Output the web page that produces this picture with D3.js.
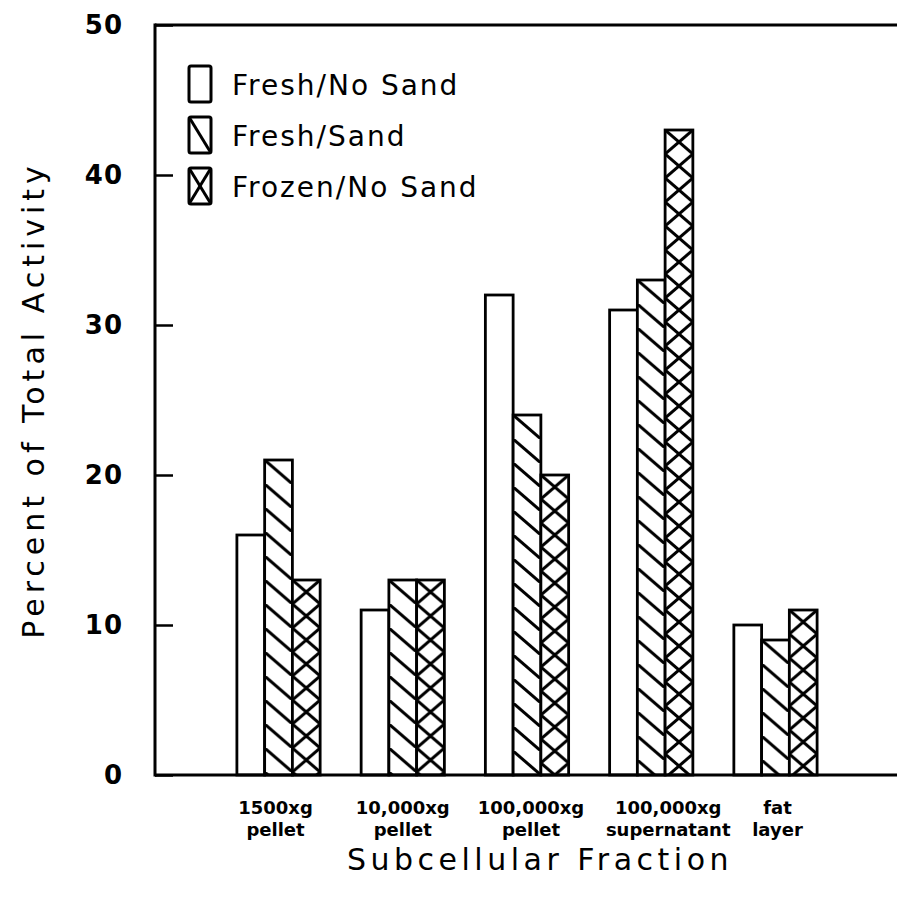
<!DOCTYPE html>
<html>
<head>
<meta charset="utf-8">
<script src="https://cdn.jsdelivr.net/npm/d3@7"></script>
<style>
  html, body { margin: 0; padding: 0; background: #fff; }
  svg { display: block; }
</style>
</head>
<body>
<script>
// ---- data ----
const categories = ["1500xg pellet", "10,000xg pellet", "100,000xg pellet", "100,000xg supernatant", "fat layer"];
const labelTop = ["1500xg", "10,000xg", "100,000xg", "100,000xg", "fat"];
const labelBottom = ["pellet", "pellet", "pellet", "supernatant", "layer"];
const seriesNames = ["Fresh/No Sand", "Fresh/Sand", "Frozen/No Sand"];
const freshNoSand = [16, 11, 32, 31, 10];
const freshSand = [21, 13, 24, 33, 9];
const frozenNoSand = [13, 13, 20, 43, 11];
const yTicks = [0, 10, 20, 30, 40, 50];
const seriesValues = [freshNoSand, freshSand, frozenNoSand];
const seriesKinds = ["open", "hatch", "cross"];

(function () {
// ---- layout ----
const W = 897, H = 898;
const mLeft = 155, mTop = 25, mBottom = 775, mRight = 897;
const labelNudge = [-3, 0, 4, 17, 2];

const svg = d3.select("body").append("svg").attr("width", W).attr("height", H);
const defs = svg.append("defs");

const y = d3.scaleLinear().domain([0, 50]).range([mBottom, mTop]);
const x0 = d3.scaleBand().domain(categories).range([216.4, 837.6]).paddingInner(0.33).paddingOuter(0.165);
const x1 = d3.scaleBand().domain(seriesNames).range([0, x0.bandwidth()]);

const bars = [];
categories.forEach((c, ci) => {
  seriesNames.forEach((s, si) => {
    bars.push({ c, ci, s, si, v: seriesValues[si][ci], kind: seriesKinds[si] });
  });
});

const tileH = 24;
bars.forEach(b => {
  if (b.kind === "open") return;
  const bx = x0(b.c) + x1(b.s), bw = x1.bandwidth(), by = y(b.v);
  const p = defs.append("pattern")
    .attr("id", `pat-${b.si}-${b.ci}`)
    .attr("patternUnits", "userSpaceOnUse")
    .attr("x", bx).attr("y", by)
    .attr("width", bw).attr("height", tileH);
  p.append("rect").attr("width", bw).attr("height", tileH).attr("fill", "#fff");
  const ext = 2;
  const k = tileH / bw;
  p.append("line")
    .attr("x1", -ext).attr("y1", -ext * k)
    .attr("x2", bw + ext).attr("y2", tileH + ext * k)
    .attr("stroke", "#000").attr("stroke-width", 3);
  if (b.kind === "cross") {
    p.append("line")
      .attr("x1", bw + ext).attr("y1", -ext * k)
      .attr("x2", -ext).attr("y2", tileH + ext * k)
      .attr("stroke", "#000").attr("stroke-width", 3);
  }
});

// bars
svg.append("g").selectAll("rect").data(bars).join("rect")
  .attr("x", d => x0(d.c) + x1(d.s))
  .attr("y", d => y(d.v))
  .attr("width", x1.bandwidth())
  .attr("height", d => y(0) - y(d.v))
  .attr("fill", d => d.kind === "open" ? "#fff" : `url(#pat-${d.si}-${d.ci})`)
  .attr("stroke", "#000")
  .attr("stroke-width", 2.8);

// axes frame
const axisG = svg.append("g");
axisG.append("line").attr("x1", mLeft).attr("x2", mLeft).attr("y1", mTop - 1.5).attr("y2", mBottom + 1.5)
  .attr("stroke", "#000").attr("stroke-width", 3);
axisG.append("line").attr("x1", mLeft).attr("x2", mRight).attr("y1", mTop).attr("y2", mTop)
  .attr("stroke", "#000").attr("stroke-width", 3);
axisG.append("line").attr("x1", mLeft).attr("x2", mRight).attr("y1", mBottom).attr("y2", mBottom)
  .attr("stroke", "#000").attr("stroke-width", 3);

// y ticks (inward)
const yAxis = d3.axisRight(y).tickValues(yTicks).tickSize(18).tickFormat("");
const yg = svg.append("g").attr("transform", `translate(${mLeft},0)`).call(yAxis);
yg.select(".domain").remove();
yg.selectAll(".tick line").attr("stroke", "#000").attr("stroke-width", 2.5);

svg.append("g").selectAll("text").data(yTicks).join("text")
  .attr("x", 123)
  .attr("y", d => y(d))
  .attr("dy", "0.36em")
  .attr("text-anchor", "end")
  .attr("font-family", "DejaVu Sans, sans-serif")
  .attr("font-weight", "bold")
  .attr("font-size", 26)
  .attr("letter-spacing", 1)
  .text(d => d);

// x category labels
const xl = svg.append("g").attr("font-family", "DejaVu Sans, sans-serif").attr("font-weight", "bold").attr("font-size", 18).attr("text-anchor", "middle");
xl.selectAll("text.l1").data(categories).join("text").attr("class", "l1")
  .attr("x", (d, i) => x0(d) + x0.bandwidth() / 2 + labelNudge[i])
  .attr("y", 814)
  .text((d, i) => labelTop[i]);
xl.selectAll("text.l2").data(categories).join("text").attr("class", "l2")
  .attr("x", (d, i) => x0(d) + x0.bandwidth() / 2 + labelNudge[i])
  .attr("y", 836)
  .text((d, i) => labelBottom[i]);

// axis titles
svg.append("text")
  .attr("transform", `translate(44,400) rotate(-90)`)
  .attr("text-anchor", "middle")
  .attr("font-family", "DejaVu Sans, sans-serif")
  .attr("font-size", 30)
  .attr("letter-spacing", 5)
  .text("Percent of Total Activity");

svg.append("text")
  .attr("x", 540).attr("y", 870)
  .attr("text-anchor", "middle")
  .attr("font-family", "DejaVu Sans, sans-serif")
  .attr("font-size", 30)
  .attr("letter-spacing", 4.5)
  .text("Subcellular Fraction");

// legend
const legend = svg.append("g");
const boxW = 22, boxH = 36;
const legendY = [84, 135, 186];
seriesNames.forEach((s, i) => {
  const g = legend.append("g").attr("transform", `translate(189,${legendY[i] - boxH / 2})`);
  g.append("rect").attr("width", boxW).attr("height", boxH).attr("rx", 2)
    .attr("fill", "#fff").attr("stroke", "#000").attr("stroke-width", 3);
  if (seriesKinds[i] !== "open") {
    g.append("line").attr("x1", 0).attr("y1", 0).attr("x2", boxW).attr("y2", boxH)
      .attr("stroke", "#000").attr("stroke-width", 3);
  }
  if (seriesKinds[i] === "cross") {
    g.append("line").attr("x1", boxW).attr("y1", 0).attr("x2", 0).attr("y2", boxH)
      .attr("stroke", "#000").attr("stroke-width", 3);
  }
  legend.append("text")
    .attr("x", 232).attr("y", legendY[i] + 11)
    .attr("font-family", "DejaVu Sans, sans-serif")
    .attr("font-size", 28)
    .attr("letter-spacing", 2)
    .text(s);
});
})();
</script>
</body>
</html>
